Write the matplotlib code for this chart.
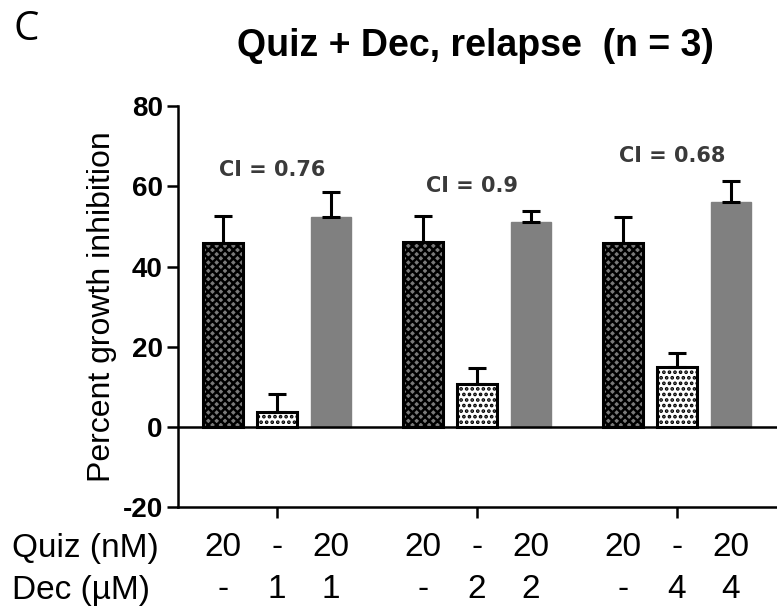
import matplotlib
matplotlib.use('Agg')
from matplotlib import pyplot as plt
from matplotlib import transforms
import numpy as np

plt.rcParams['font.family'] = ['Liberation Sans', 'DejaVu Sans']
plt.rcParams['axes.unicode_minus'] = False
plt.rcParams['hatch.linewidth'] = 1.8

# data (percent growth inhibition, mean and upper error)
dec_doses = ['1', '2', '4']
quiz_only = [45.8, 46.0, 45.8]
quiz_only_err = [6.7, 6.5, 6.5]
dec_only = [3.8, 10.8, 15.0]
dec_only_err = [4.3, 4.0, 3.5]
combo = [52.3, 51.0, 56.0]
combo_err = [6.2, 2.8, 5.3]
ci_labels = ['CI = 0.76', 'CI = 0.9', 'CI = 0.68']
ci_y = [64, 60, 67.5]
quiz_row = ['20', '-', '20'] * 3
dec_row = ['-', '1', '1', '-', '2', '2', '-', '4', '4']

fig = plt.figure(figsize=(7.77, 6.11), dpi=100)
ax = fig.add_axes([0.229, 0.170, 0.771, 0.6563])

x = np.arange(len(dec_doses))
off = 0.27
w = 0.2
ekw = dict(elinewidth=2.2, capthick=2.2, ecolor='black')

def up(e):
    return [np.zeros(len(e)), e]

ax.bar(x - off, quiz_only, w, yerr=up(quiz_only_err), capsize=6.5, error_kw=ekw,
       facecolor='#7a7a7a', edgecolor='black', linewidth=2.2, hatch='xxxx', zorder=3)
ax.bar(x, dec_only, w, yerr=up(dec_only_err), capsize=6.5, error_kw=ekw,
       facecolor='white', edgecolor='black', linewidth=2.2, hatch='...', zorder=3)
ax.bar(x + off, combo, w, yerr=up(combo_err), capsize=6.5, error_kw=ekw,
       facecolor='#808080', edgecolor='#808080', linewidth=1, zorder=3)

for i, t in enumerate(ci_labels):
    ax.text(x[i] - 0.025, ci_y[i], t, ha='center', va='center', fontsize=15,
            fontweight='bold', color='#3a3a3a', family='DejaVu Sans')

ax.axhline(0, color='black', lw=1.8, zorder=4)
ax.set_xlim(-0.495, 2.5)
ax.set_ylim(-20, 80)
ax.set_yticks(range(-20, 81, 20))
ax.set_xticks(x)
ax.set_xticklabels([])
for s in ['top', 'right']:
    ax.spines[s].set_visible(False)
for s in ['left', 'bottom']:
    ax.spines[s].set_linewidth(1.8)
ax.tick_params(axis='both', width=1.8, length=8, labelsize=20, pad=3)
for lab in ax.get_yticklabels():
    lab.set_fontweight('bold')
ax.set_ylabel('Percent growth inhibition', fontsize=23, labelpad=4)

trans = transforms.blended_transform_factory(ax.transData, fig.transFigure)
pos = np.concatenate([[g - off, g, g + off] for g in x])
for p, q, d in zip(pos, quiz_row, dec_row):
    ax.text(p, 1 - 548 / 611, q, transform=trans, ha='center', va='center', fontsize=24)
    ax.text(p, 1 - 590 / 611, d, transform=trans, ha='center', va='center', fontsize=24)
fig.text(12 / 777, 1 - 548 / 611, 'Quiz (nM)', ha='left', va='center', fontsize=24)
fig.text(12 / 777, 1 - 590 / 611, 'Dec (µM)', ha='left', va='center', fontsize=24)

fig.text(475 / 777, 1 - 46 / 611, 'Quiz + Dec, relapse  (n = 3)', ha='center', va='center',
         fontsize=27, fontweight='bold')
fig.text(14 / 777, 1 - 30 / 611, 'C', ha='left', va='center', fontsize=29,
         family='Open Sans')

fig.savefig('out.png', dpi=100)
